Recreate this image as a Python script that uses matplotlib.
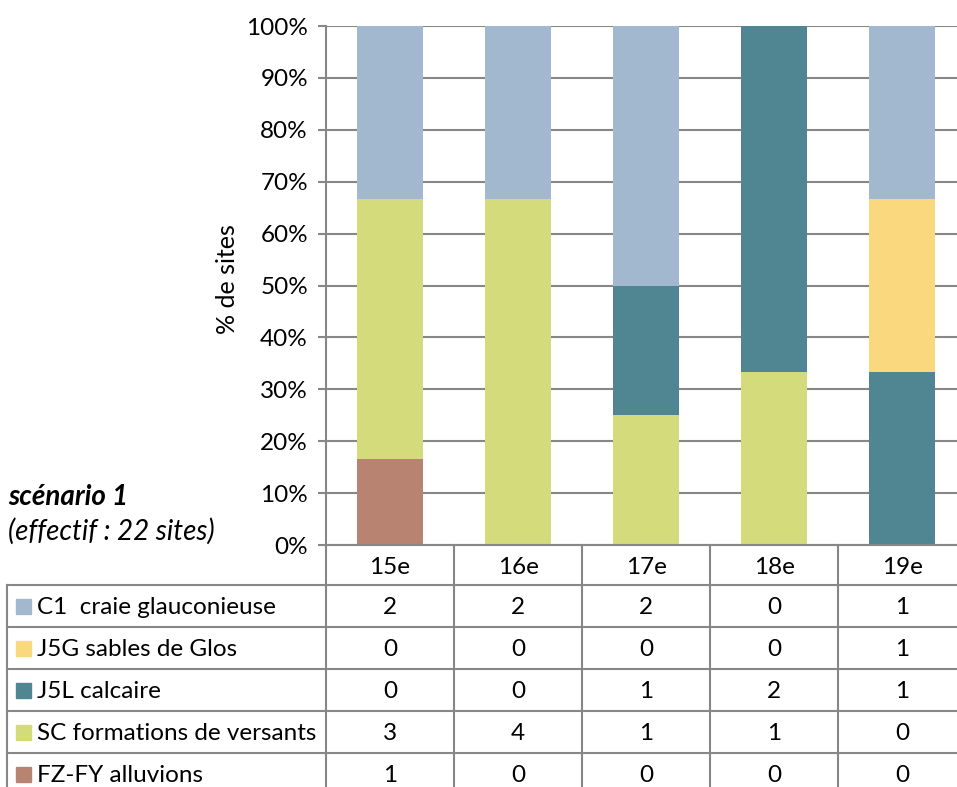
import matplotlib.pyplot as plt
import numpy as np
from matplotlib.patches import Rectangle

plt.rcParams['font.family'] = ['Lato', 'DejaVu Sans']

periods = ["15e", "16e", "17e", "18e", "19e"]
series_names = ["C1  craie glauconieuse", "J5G sables de Glos", "J5L calcaire",
                "SC formations de versants", "FZ-FY alluvions"]
c1 = [2, 2, 2, 0, 1]
j5g = [0, 0, 0, 0, 1]
j5l = [0, 0, 1, 2, 1]
sc = [3, 4, 1, 1, 0]
fzfy = [1, 0, 0, 0, 0]
colors = ["#A2B8CF", "#FAD87D", "#4F8691", "#D4DB7B", "#B88471"]

counts = np.array([c1, j5g, j5l, sc, fzfy], dtype=float)
totals = counts.sum(axis=0)
shares = counts / totals * 100

W, H = 957, 787
fig = plt.figure(figsize=(W / 100, H / 100), dpi=100)
fs = 17.5

# main chart axes, in pixel geometry
x0, x1, ytop, ybot = 326, 966, 26, 545
ax = fig.add_axes([x0 / W, (H - ybot) / H, (x1 - x0) / W, (ybot - ytop) / H])
x = np.arange(len(periods))
bottom = np.zeros(len(periods))
# stack from bottom series (FZ-FY) to top (C1)
for i in range(len(series_names) - 1, -1, -1):
    ax.bar(x, shares[i], 0.51, bottom=bottom, color=colors[i], zorder=3)
    bottom += shares[i]
ax.set_xlim(-0.5, len(periods) - 0.5)
ax.set_ylim(0, 100)
ax.set_yticks(range(0, 101, 10))
ax.set_yticklabels([f"{v}%" for v in range(0, 101, 10)], fontsize=fs)
ax.yaxis.grid(True, color="#878787", linewidth=1.5, zorder=0)
ax.tick_params(axis="y", length=6, width=1.5, color="#878787", pad=7)
ax.set_xticks([])
for s in ["top", "right", "bottom"]:
    ax.spines[s].set_visible(False)
ax.spines["left"].set_color("#878787")
ax.spines["left"].set_linewidth(1.5)
ax.set_ylabel("% de sites", fontsize=18)
ax.yaxis.set_label_coords((239 - x0) / (x1 - x0), (ybot - 279) / (ybot - ytop))

# overlay axes for the data table and side texts
ov = fig.add_axes([0, 0, 1, 1])
ov.set_xlim(0, W)
ov.set_ylim(H, 0)
ov.axis("off")

col_w = (x1 - x0) / len(periods)
head_top, head_bot, row_h = 545, 585, 42
lab_left = 7
nrows = len(series_names)
tab_bot = head_bot + nrows * row_h
lc = "#878787"
lw = 1.5
# header row
ov.plot([x0, x1], [head_top, head_top], color=lc, lw=lw)
for j in range(len(periods) + 1):
    ov.plot([x0 + j * col_w] * 2, [head_top, tab_bot], color=lc, lw=lw)
ov.plot([lab_left, lab_left], [head_bot, tab_bot], color=lc, lw=lw)
for r in range(nrows + 1):
    ov.plot([lab_left, x1], [head_bot + r * row_h] * 2, color=lc, lw=lw)
for j, p in enumerate(periods):
    ov.text(x0 + (j + 0.5) * col_w, (head_top + head_bot) / 2 + 2, p,
            ha="center", va="center", fontsize=fs)
for r, name in enumerate(series_names):
    yc = head_bot + (r + 0.5) * row_h
    ov.add_patch(Rectangle((16, yc - 7), 15, 15, color=colors[r]))
    ov.text(37, yc + 1, name, ha="left", va="center", fontsize=fs)
    for j in range(len(periods)):
        ov.text(x0 + (j + 0.5) * col_w, yc + 1, f"{int(counts[r, j])}",
                ha="center", va="center", fontsize=fs)

ov.text(8, 497, "scénario 1", fontsize=20, fontweight="bold", fontstyle="italic",
        ha="left", va="center")
ov.text(8, 531, "(effectif : 22 sites)", fontsize=20, fontstyle="italic",
        ha="left", va="center")

fig.savefig("out.png", dpi=100)
